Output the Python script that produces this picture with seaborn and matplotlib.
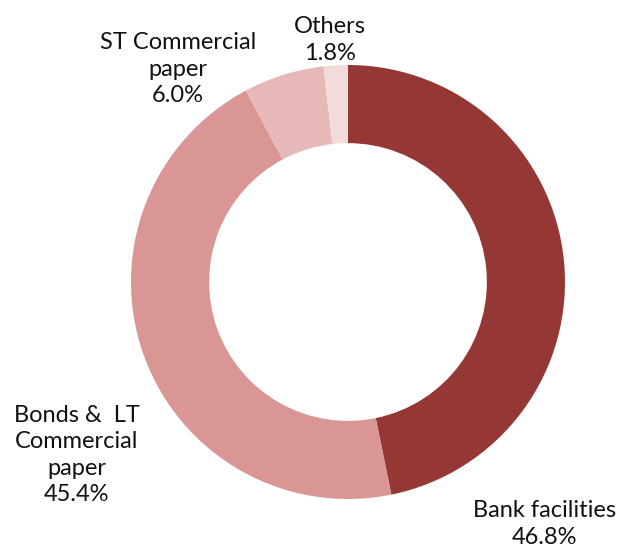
import matplotlib
matplotlib.use("Agg")
import matplotlib.pyplot as plt
import seaborn as sns

labels = ["Bank facilities", "Bonds &  LT\nCommercial\npaper", "ST Commercial\npaper", "Others"]
shares = [46.8, 45.4, 6.0, 1.8]
colors = ["#953735", "#D99694", "#E6B9B8", "#F2DCDB"]

sns.set_theme(style="white")
plt.rcParams['font.family'] = ['Lato', 'DejaVu Sans']

W, H = 625, 552
fig = plt.figure(figsize=(W / 100, H / 100), dpi=100)

cx, cy, r = 348, 282, 217
ax = fig.add_axes([(cx - r) / W, (H - cy - r) / H, 2 * r / W, 2 * r / H])
ax.pie(shares, colors=colors, startangle=90, counterclock=False,
       radius=1.0, wedgeprops=dict(width=0.36, edgecolor="none"))
ax.set_xlim(-1, 1)
ax.set_ylim(-1, 1)
ax.set_aspect("equal")
ax.axis("off")

# label anchors in pixels (center x, center y of text block)
label_pos = [(545, 524), (77, 455), (178, 69), (330, 40)]
for lab, val, (px, py) in zip(labels, shares, label_pos):
    fig.text(px / W, 1 - py / H, f"{lab}\n{val:.1f}%", ha="center", va="center",
             fontsize=17, color="#111111", linespacing=1.32)

fig.savefig("out.png", dpi=100)
